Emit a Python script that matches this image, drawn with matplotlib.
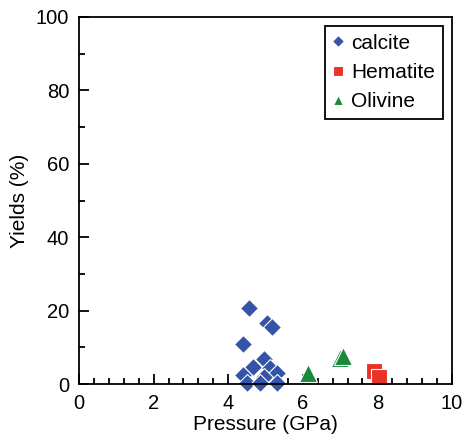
import matplotlib
matplotlib.use('Agg')
import matplotlib.pyplot as plt
from matplotlib.ticker import MultipleLocator

plt.rcParams['font.family'] = ['Liberation Sans', 'DejaVu Sans']

calcite_p = [4.56, 5.05, 5.17, 4.41, 4.96, 4.66, 5.12, 5.30, 4.39, 4.96, 4.50, 4.85, 5.30]
calcite_y = [20.7, 16.7, 15.6, 10.8, 6.9, 4.7, 4.3, 2.9, 2.5, 1.8, 0.2, 0.2, 0.2]
hematite_p = [7.92, 8.05]
hematite_y = [3.6, 2.0]
olivine_p = [6.15, 7.00, 7.07]
olivine_y = [3.1, 7.0, 7.6]

fig = plt.figure(figsize=(4.63, 4.37), dpi=100)
ax = fig.add_axes([79 / 463, 1 - 384 / 437, (452 - 79) / 463, (384 - 17) / 437])

ax.plot(calcite_p, calcite_y, 'D', color='#3553a8', ms=9.5, mec='white', mew=0.8,
        label='calcite', clip_on=False)
ax.plot(hematite_p, hematite_y, 's', color='#e8322a', ms=11, mec='white', mew=0.8,
        label='Hematite', clip_on=False)
ax.plot(olivine_p, olivine_y, '^', color='#188a3a', ms=12.5, mec='white', mew=0.8,
        label='Olivine', clip_on=False)

ax.set_xlim(0, 10)
ax.set_ylim(0, 100)
ax.xaxis.set_major_locator(MultipleLocator(2))
ax.xaxis.set_minor_locator(MultipleLocator(0.4))
ax.yaxis.set_major_locator(MultipleLocator(20))
ax.yaxis.set_minor_locator(MultipleLocator(10))
ax.tick_params(which='both', direction='in', width=1.3, labelsize=14.5)
ax.tick_params(which='major', length=7, pad=7)
ax.tick_params(which='minor', length=4)
for s in ax.spines.values():
    s.set_linewidth(1.3)

ax.set_xlabel('Pressure (GPa)', fontsize=15, labelpad=2)
ax.set_ylabel('Yields (%)', fontsize=15, labelpad=5)

leg = ax.legend(loc='upper right', fontsize=15, markerscale=0.6, handlelength=0.5,
                handletextpad=0.4, fancybox=False, framealpha=1, borderpad=0.35,
                labelspacing=0.5, borderaxespad=0.45)
leg.get_frame().set_edgecolor('black')
leg.get_frame().set_linewidth(1.3)

fig.savefig('out.png', dpi=100)
